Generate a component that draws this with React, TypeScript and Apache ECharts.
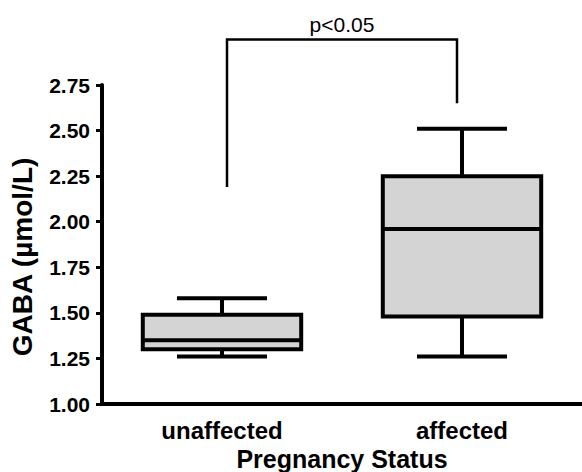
import React, { useEffect, useRef } from "react";
import * as echarts from "echarts";

const categories = ["unaffected", "affected"];
const whiskerLow = [1.26, 1.26];
const quartile1 = [1.3, 1.48];
const medians = [1.35, 1.96];
const quartile3 = [1.49, 2.25];
const whiskerHigh = [1.58, 2.51];

const yMin = 1.0;
const yMax = 2.75;
const yInterval = 0.25;

// significance bracket: [left category, right category, left foot, top, right foot]
const bracketCats = [0, 1];
const bracketValues = [2.19, 3.0, 2.65];
const bracketLabel = "p<0.05";

const yTitle = "GABA (\u00b5mol/L)";
const xTitle = "Pregnancy Status";

const FONT = "'Liberation Sans', Arial, Helvetica, sans-serif";

export default function App() {
  const ref = useRef<HTMLDivElement>(null);

  useEffect(() => {
    if (!ref.current) return;
    const chart = echarts.init(ref.current, undefined, { renderer: "svg" });

    const boxData = categories.map((_, i) => [
      i,
      whiskerLow[i],
      quartile1[i],
      medians[i],
      quartile3[i],
      whiskerHigh[i],
    ]);

    const option: any = {
      animation: false,
      backgroundColor: "#ffffff",
      grid: {
        left: 102,
        right: 0,
        top: 85,
        bottom: 68,
        containLabel: false,
        outerBoundsMode: "none",
      },
      graphic: [
        {
          type: "text",
          x: 22,
          y: 257,
          rotation: Math.PI / 2,
          style: {
            text: yTitle,
            fontSize: 28,
            fontWeight: "bold",
            fontFamily: FONT,
            fill: "#000",
            align: "center",
            verticalAlign: "middle",
          },
        },
      ],
      xAxis: {
        type: "category",
        data: categories,
        boundaryGap: true,
        axisLine: { show: true, lineStyle: { color: "#000", width: 4 } },
        axisTick: { show: false },
        axisLabel: {
          color: "#000",
          fontWeight: "bold",
          fontSize: 24,
          fontFamily: FONT,
          margin: 14,
        },
        splitLine: { show: false },
        name: xTitle,
        nameLocation: "middle",
        nameGap: 39,
        nameTextStyle: {
          color: "#000",
          fontWeight: "bold",
          fontSize: 25,
          fontFamily: FONT,
        },
      },
      yAxis: {
        type: "value",
        min: yMin,
        max: yMax,
        interval: yInterval,
        axisLine: { show: true, lineStyle: { color: "#000", width: 4 } },
        axisTick: { show: true, length: 6, lineStyle: { color: "#000", width: 3 } },
        axisLabel: {
          color: "#000",
          fontWeight: "bold",
          fontSize: 21,
          fontFamily: FONT,
          margin: 12,
          formatter: (v: number) => v.toFixed(2),
        },
        splitLine: { show: false },
      },
      series: [
        {
          type: "custom",
          clip: false,
          data: boxData,
          encode: { x: 0, y: [1, 2, 3, 4, 5] },
          renderItem: (params: any, api: any) => {
            const cat = api.value(0);
            const yOf = (v: number) => api.coord([cat, v])[1];
            const cx = api.coord([cat, api.value(3)])[0];
            const band = api.size([1, 0])[0];
            const bw = band * 0.66;
            const cw = band * 0.375;
            const lo = yOf(api.value(1));
            const q1 = yOf(api.value(2));
            const med = yOf(api.value(3));
            const q3 = yOf(api.value(4));
            const hi = yOf(api.value(5));
            const ls = { stroke: "#000", lineWidth: 4, fill: null };
            return {
              type: "group",
              children: [
                { type: "line", shape: { x1: cx, y1: q3, x2: cx, y2: hi }, style: ls },
                { type: "line", shape: { x1: cx - cw / 2, y1: hi, x2: cx + cw / 2, y2: hi }, style: ls },
                { type: "line", shape: { x1: cx, y1: q1, x2: cx, y2: lo }, style: ls },
                { type: "line", shape: { x1: cx - cw / 2, y1: lo, x2: cx + cw / 2, y2: lo }, style: ls },
                {
                  type: "rect",
                  shape: { x: cx - bw / 2, y: q3, width: bw, height: q1 - q3 },
                  style: { fill: "#d4d4d4", stroke: "#000", lineWidth: 4 },
                },
                { type: "line", shape: { x1: cx - bw / 2, y1: med, x2: cx + bw / 2, y2: med }, style: ls },
              ],
            };
          },
          z: 3,
        },
        {
          type: "custom",
          clip: false,
          data: [[bracketCats[0], bracketCats[1], bracketValues[0], bracketValues[1], bracketValues[2]]],
          encode: { x: [0, 1], y: [2, 3, 4] },
          renderItem: (params: any, api: any) => {
            const pl = api.coord([api.value(0), api.value(2)]);
            const pt = api.coord([api.value(0), api.value(3)]);
            const pr = api.coord([api.value(1), api.value(4)]);
            const xl = pl[0] + 5;
            const xr = pr[0] - 5;
            const yt = pt[1];
            return {
              type: "group",
              children: [
                {
                  type: "polyline",
                  shape: { points: [[xl, pl[1]], [xl, yt], [xr, yt], [xr, pr[1]]] },
                  style: { stroke: "#000", lineWidth: 2.5, fill: null },
                },
                {
                  type: "text",
                  x: (xl + xr) / 2,
                  y: yt - 4,
                  style: {
                    text: bracketLabel,
                    fontSize: 21,
                    fontFamily: FONT,
                    fill: "#000",
                    align: "center",
                    verticalAlign: "bottom",
                  },
                },
              ],
            };
          },
          z: 4,
        },
      ],
    };

    chart.setOption(option);
    return () => chart.dispose();
  }, []);

  return (
    <div
      ref={ref}
      style={{ position: "fixed", left: 0, top: 0, width: 582, height: 472, background: "#fff" }}
    />
  );
}
